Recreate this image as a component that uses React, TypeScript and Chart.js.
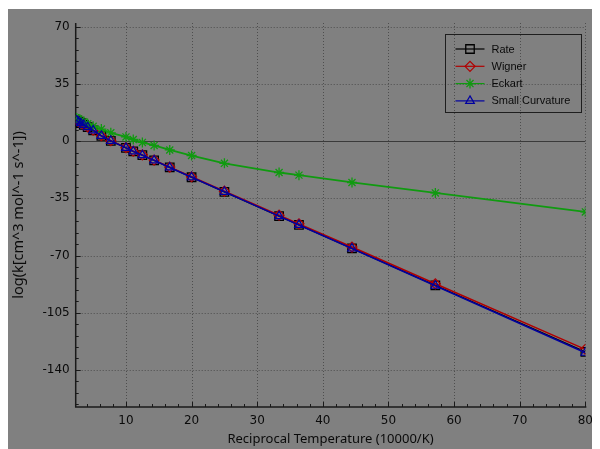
import React, { useEffect, useRef } from 'react';
import { Chart, registerables } from 'chart.js';
import { drawPoint } from 'chart.js/helpers';

Chart.register(...registerables);

// Reciprocal temperature (10000/K)
const xValues = [2.5, 2.78, 3.13, 3.57, 4.17, 5.0, 6.25, 7.69, 10, 11.11, 12.5, 14.29, 16.67, 20, 25, 33.33, 36.36, 44.44, 57.14, 80];
const rateValues = [12.6, 11.9, 11.0, 10.0, 8.6, 6.6, 3.2, 0.2, -4.1, -6.3, -8.6, -11.8, -16.1, -22.1, -31.0, -45.9, -51.3, -65.6, -88.3, -129.0];
const wignerValues = [12.7, 12.0, 11.1, 10.1, 8.7, 6.7, 3.3, 0.3, -4.0, -6.2, -8.4, -11.6, -15.9, -21.8, -30.6, -45.3, -50.6, -64.8, -87.3, -127.4];
const eckartValues = [14.2, 13.6, 12.8, 11.9, 10.6, 9.1, 7.4, 5.1, 2.6, 1.0, -0.8, -2.6, -5.4, -8.8, -13.6, -19.2, -20.8, -25.3, -31.7, -43.3];
const scValues = [12.6, 11.9, 11.0, 10.0, 8.6, 6.6, 3.2, 0.2, -4.1, -6.3, -8.6, -11.8, -16.1, -22.1, -31.0, -45.9, -51.3, -65.7, -88.5, -129.5];

const seriesNames = ['Rate', 'Wigner', 'Eckart', 'Small Curvature'];
const xTickValues = [10, 20, 30, 40, 50, 60, 70, 80];
const yTickValues = [-140, -105, -70, -35, 0, 35, 70];
const xMinorStep = 2;
const yMinorStep = 7;
const X_MIN = 2.34;
const X_MAX = 80;
const Y_MIN = -162.7;
const Y_MAX = 72.3;

const BG = '#808080';

const decorPlugin = {
  id: 'decor',
  beforeDatasetsDraw(chart: any) {
    const { ctx, chartArea } = chart;
    const { left, right, top, bottom } = chartArea;
    const xs = chart.scales.x;
    const ys = chart.scales.y;
    ctx.save();
    // dotted grid
    ctx.lineWidth = 1;
    ctx.strokeStyle = '#4e4e4e';
    ctx.setLineDash([1, 2]);
    for (const v of xTickValues) {
      const px = Math.round(xs.getPixelForValue(v)) + 0.5;
      ctx.beginPath();
      ctx.moveTo(px, top);
      ctx.lineTo(px, bottom);
      ctx.stroke();
    }
    for (const v of yTickValues) {
      if (v === 0) continue;
      const py = Math.round(ys.getPixelForValue(v)) + 0.5;
      ctx.beginPath();
      ctx.moveTo(left, py);
      ctx.lineTo(right, py);
      ctx.stroke();
    }
    ctx.setLineDash([]);
    // zero line
    ctx.strokeStyle = '#3a3a3a';
    const zy = Math.round(ys.getPixelForValue(0)) + 0.5;
    ctx.beginPath();
    ctx.moveTo(left, zy);
    ctx.lineTo(right, zy);
    ctx.stroke();
    // ticks (inward)
    ctx.strokeStyle = '#1a1a1a';
    ctx.lineWidth = 1;
    const startX = Math.ceil(X_MIN / xMinorStep) * xMinorStep;
    for (let v = startX; v <= X_MAX + 1e-9; v += xMinorStep) {
      const major = xTickValues.includes(v);
      const px = Math.round(xs.getPixelForValue(v)) + 0.5;
      ctx.beginPath();
      ctx.moveTo(px, bottom);
      ctx.lineTo(px, bottom - (major ? 5 : 3));
      ctx.stroke();
    }
    const startY = Math.ceil(Y_MIN / yMinorStep) * yMinorStep;
    for (let v = startY; v <= Y_MAX + 1e-9; v += yMinorStep) {
      const major = yTickValues.includes(v);
      const py = Math.round(ys.getPixelForValue(v)) + 0.5;
      ctx.beginPath();
      ctx.moveTo(left, py);
      ctx.lineTo(left + (major ? 5 : 3), py);
      ctx.stroke();
    }
    // axes
    ctx.strokeStyle = '#1a1a1a';
    ctx.lineWidth = 1.5;
    ctx.beginPath();
    ctx.moveTo(left, top);
    ctx.lineTo(left, bottom);
    ctx.lineTo(right + 1, bottom);
    ctx.stroke();
    ctx.restore();
  },
  afterDraw(chart: any) {
    const { ctx } = chart;
    ctx.save();
    const bx = 437.5, by = 25.5, bw = 136, bh = 78;
    ctx.strokeStyle = '#1e1e1e';
    ctx.lineWidth = 1;
    ctx.strokeRect(bx, by, bw, bh);
    ctx.font = '11px "Liberation Sans", Arial, sans-serif';
    ctx.textBaseline = 'middle';
    ctx.textAlign = 'left';
    chart.data.datasets.forEach((ds: any, i: number) => {
      const cy = by + 14.5 + i * 17.3;
      ctx.strokeStyle = ds.borderColor;
      ctx.lineWidth = 1.2;
      ctx.beginPath();
      ctx.moveTo(bx + 10, cy);
      ctx.lineTo(bx + 39, cy);
      ctx.stroke();
      ctx.fillStyle = 'rgba(0,0,0,0)';
      ctx.strokeStyle = ds.pointBorderColor;
      ctx.lineWidth = ds.pointBorderWidth;
      drawPoint(ctx, { pointStyle: ds.pointStyle, radius: ds.pointRadius, rotation: 0, borderWidth: ds.pointBorderWidth }, bx + 24.5, cy);
      ctx.fillStyle = '#0a0a0a';
      ctx.fillText(ds.label, bx + 46, cy + 0.5);
    });
    ctx.restore();
  },
};

function makeData(vals: number[]) {
  return xValues.map((x, i) => ({ x, y: vals[i] }));
}

export default function App() {
  const ref = useRef<HTMLCanvasElement>(null);
  useEffect(() => {
    if (!ref.current) return;
    const tickFont = { family: '"DejaVu Sans", sans-serif', size: 12 };
    const xTitleFont = { family: '"Noto Sans", sans-serif', size: 13 };
    const yTitleFont = { family: '"Noto Sans", sans-serif', size: 14.5 };
    const chart = new Chart(ref.current, {
      type: 'line',
      data: {
        datasets: [
          {
            label: seriesNames[0],
            data: makeData(rateValues),
            borderColor: '#000000',
            borderWidth: 1.3,
            pointStyle: 'rect',
            pointRadius: 6,
            pointBorderWidth: 1.3,
            pointBorderColor: '#000000',
            pointBackgroundColor: 'rgba(0,0,0,0)',
            order: 3,
          },
          {
            label: seriesNames[1],
            data: makeData(wignerValues),
            borderColor: '#b00000',
            borderWidth: 1.5,
            pointStyle: 'rectRot',
            pointRadius: 5,
            pointBorderWidth: 1.2,
            pointBorderColor: '#b00000',
            pointBackgroundColor: 'rgba(0,0,0,0)',
            order: 2,
          },
          {
            label: seriesNames[2],
            data: makeData(eckartValues),
            borderColor: '#109a10',
            borderWidth: 1.8,
            pointStyle: 'star',
            pointRadius: 5,
            pointBorderWidth: 1.3,
            pointBorderColor: '#109a10',
            pointBackgroundColor: 'rgba(0,0,0,0)',
            order: 1,
          },
          {
            label: seriesNames[3],
            data: makeData(scValues),
            borderColor: '#0000a0',
            borderWidth: 1.5,
            pointStyle: 'triangle',
            pointRadius: 5,
            pointBorderWidth: 1.2,
            pointBorderColor: '#0000a0',
            pointBackgroundColor: 'rgba(0,0,0,0)',
            order: 0,
          },
        ],
      },
      options: {
        animation: false,
        responsive: false,
        maintainAspectRatio: false,
        layout: { padding: { top: 14, right: 11, left: 0, bottom: 0 } },
        plugins: { legend: { display: false }, tooltip: { enabled: false } },
        scales: {
          x: {
            type: 'linear',
            min: X_MIN,
            max: X_MAX,
            grid: { display: false, drawTicks: false },
            border: { display: false },
            ticks: { font: tickFont, color: '#0a0a0a', padding: 7, maxRotation: 0 },
            afterBuildTicks: (s: any) => {
              s.ticks = xTickValues.map((value) => ({ value }));
            },
            afterFit: (s: any) => {
              s.height = 42;
            },
            title: {
              display: true,
              text: 'Reciprocal Temperature (10000/K)',
              font: xTitleFont,
              color: '#0a0a0a',
              padding: { top: 0, bottom: 2 },
            },
          },
          y: {
            type: 'linear',
            min: Y_MIN,
            max: Y_MAX,
            grid: { display: false, drawTicks: false },
            border: { display: false },
            ticks: { font: tickFont, color: '#0a0a0a', padding: 6 },
            afterBuildTicks: (s: any) => {
              s.ticks = yTickValues.map((value) => ({ value }));
            },
            afterFit: (s: any) => {
              s.width = 67.7;
            },
            title: {
              display: true,
              text: 'log(k[cm^3 mol^-1 s^-1])',
              font: yTitleFont,
              color: '#0a0a0a',
              padding: { top: 2, bottom: 0 },
            },
          },
        },
      },
      plugins: [decorPlugin],
    } as any);
    return () => chart.destroy();
  }, []);
  return (
    <div style={{ width: 592, height: 440, marginTop: 1, background: BG }}>
      <canvas ref={ref} width={592} height={440} style={{ display: 'block' }} />
    </div>
  );
}
